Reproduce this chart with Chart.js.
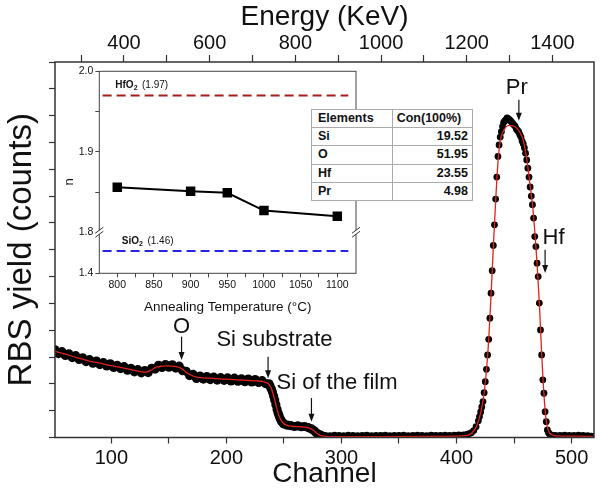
<!DOCTYPE html>
<html>
<head>
<meta charset="utf-8">
<script src="https://cdn.jsdelivr.net/npm/chart.js@4.4.0/dist/chart.umd.min.js"></script>
<style>
  body { margin: 0; background: #fff; }
  #wrap { position: relative; width: 600px; height: 495px; overflow: hidden; }
  #main { position: absolute; left: 0; top: 0; }
  #inset { position: absolute; left: 56px; top: 63px; }
  #comp { position: absolute; left: 311px; top: 109px; width: 161px; border-collapse: collapse; table-layout: fixed;
          background: #fff; font: bold 12.5px 'Liberation Sans', Arial, sans-serif; color: #111; }
  #comp td { border: 1px solid #aaa; height: 17.2px; padding: 0 4px 0 6px; line-height: 17px; white-space: nowrap; }
  #comp td.num { text-align: right; }
  #comp tr:first-child td:last-child { padding-left: 4px; }
</style>
</head>
<body>
<div id="wrap">
  <canvas id="main" width="600" height="495"></canvas>
  <canvas id="inset" width="310" height="260"></canvas>
  <table id="comp"><colgroup><col style="width:80.7px"><col style="width:80.3px"></colgroup><tbody></tbody></table>
</div>
<script>
// RBS spectrum, measured points (channel / counts, arbitrary units)
const measChannel = [
  51, 54, 57, 60, 63, 66, 69, 72, 75, 78, 81, 84, 87, 90, 93, 96, 99, 102, 105, 108,
  111, 114, 117, 120, 123, 126, 129, 132, 135, 138, 141, 144, 147, 150, 153, 156, 159, 162, 165, 168,
  171, 174, 177, 180, 183, 186, 189, 192, 195, 198, 201, 204, 207, 210, 213, 216, 219, 222, 225, 228,
  231, 234, 237, 238, 239, 240, 241, 242, 243, 244, 245, 246, 247, 248, 249, 250, 253, 256, 259, 262,
  265, 268, 271, 274, 276, 278, 280, 282, 286, 290, 294, 298, 302, 306, 310, 314, 318, 322, 326, 330,
  334, 338, 342, 346, 350, 354, 358, 362, 366, 370, 374, 378, 382, 386, 390, 394, 398, 402, 406, 409,
  411, 413, 415, 417, 419, 420, 421, 422, 423, 424, 425, 426, 427, 428, 429, 430, 431, 432, 433, 434,
  435, 436, 437, 438, 439, 440, 441, 442, 443, 444, 445, 446, 447, 448, 449, 450, 451, 452, 453, 454,
  455, 456, 457, 458, 459, 460, 461, 462, 463, 464, 465, 466, 467, 468, 469, 470, 471, 472, 473, 474,
  475, 476, 477, 478, 479, 480, 481, 483, 486, 490, 494, 498, 502, 506, 510, 514, 517, 519
];
const measCount = [
  327, 313, 320, 306, 312, 298, 305, 291, 297, 283, 290, 277, 285, 272, 279, 267, 275, 261, 269, 257,
  264, 251, 258, 245, 253, 241, 249, 242, 258, 255, 269, 261, 272, 262, 271, 259, 266, 249, 247, 231,
  235, 220, 229, 218, 227, 216, 225, 214, 223, 213, 222, 211, 221, 210, 219, 208, 218, 207, 216, 205,
  212, 201, 200, 190, 181, 170, 155, 140, 122, 104, 90, 78, 68, 60, 55, 50, 46, 44, 41, 43,
  40, 41, 37, 32, 26, 18, 12, 9, 8, 7, 9, 8, 7, 9, 8, 7, 8, 9, 7, 8,
  8, 9, 7, 8, 8, 9, 7, 8, 9, 8, 7, 9, 8, 8, 9, 8, 9, 10, 10, 12,
  14, 18, 26, 40, 62, 78, 95, 114, 134, 167, 208, 254, 308, 366, 445, 538, 622, 716, 793, 889,
  971, 1048, 1091, 1120, 1140, 1160, 1175, 1180, 1185, 1192, 1188, 1185, 1180, 1175, 1170, 1165, 1160, 1150, 1145, 1140,
  1130, 1120, 1105, 1095, 1080, 1060, 1035, 1004, 971, 934, 900, 868, 818, 749, 712, 650, 600, 501, 401, 308,
  215, 165, 96, 59, 28, 18, 12, 9, 8, 8, 9, 8, 8, 9, 8, 7, 5, 3
];

// simulated (fitted) spectrum
const fitChannel = [
  51, 60, 70, 80, 90, 100, 110, 120, 125, 130, 134, 139, 144, 148, 155, 159, 162, 165, 169, 174,
  185, 197, 210, 226, 232, 235, 237, 239, 240.5, 242, 243.5, 245, 247, 249, 252, 258, 265, 270, 273, 275.5,
  278, 281, 285, 290, 330, 380, 405, 410, 413, 416, 418, 420, 422, 424, 426, 428, 430, 432, 434, 436,
  438, 440, 443, 446, 449, 452, 455, 458, 461, 464, 466, 468, 470, 472, 474, 476, 478, 480, 483, 487,
  500, 515, 519
];
const fitCount = [
  321, 311, 298, 286, 277, 268, 260, 250, 246, 244, 250, 262, 266, 267, 265, 261, 254, 243, 233, 225,
  221, 218, 215, 211, 208, 204, 198, 184, 163, 140, 113, 90, 68, 55, 46, 41, 40, 38, 34, 27,
  18, 9, 5, 3, 3, 4, 6, 9, 16, 30, 48, 75, 112, 165, 250, 365, 530, 710, 880, 1025,
  1105, 1135, 1158, 1164, 1162, 1155, 1138, 1108, 1040, 940, 870, 770, 650, 500, 315, 160, 62, 24, 10, 6,
  5, 4, 2
];

// axis ticks
const channelTicks = [100, 150, 200, 250, 300, 350, 400, 450, 500];
const channelLabels = [100, 200, 300, 400, 500];
const energyTicks = [300, 400, 500, 600, 700, 800, 900, 1000, 1100, 1200, 1300, 1400];
const energyLabels = [400, 600, 800, 1000, 1200, 1400];
const countTicks = [0, 100, 200, 300, 400, 500, 600, 700, 800, 900, 1000, 1100, 1200, 1300, 1400];

// inset: refractive index vs annealing temperature
const annealTemp = [800, 900, 950, 1000, 1100];
const refractiveN = [1.856, 1.851, 1.849, 1.827, 1.820];
const refSpan = [780, 1115];
const hfo2N = 1.97;
const sio2N = 1.46;
const tempTicks = [800, 825, 850, 875, 900, 925, 950, 975, 1000, 1025, 1050, 1075, 1100];
const tempLabels = [800, 850, 900, 950, 1000, 1050, 1100];
const nTicksUpper = [1.8, 1.85, 1.9, 1.95, 2.0];
const nLabelsUpper = [1.8, 1.9, 2.0];
const nTicksLower = [1.4];

// composition table
const elements = ['Si', 'O', 'Hf', 'Pr'];
const concentration = ['19.52', '51.95', '23.55', '4.98'];

// text annotations on the spectrum
const labelNotes = [
  { text: 'O', ch: 161, v: 413, align: 'center' },
  { text: 'Si substrate', ch: 191.3, v: 364, align: 'left' },
  { text: 'Si of the film', ch: 243.5, v: 202, align: 'left' },
  { text: 'Pr', ch: 452.4, v: 1304, align: 'center' },
  { text: 'Hf', ch: 474.8, v: 744, align: 'left' }
];
const arrowNotes = [
  { ch: 161, from: 376, to: 289 },
  { ch: 236.2, from: 301, to: 221 },
  { ch: 273.9, from: 147, to: 59 },
  { ch: 454.2, from: 1259, to: 1181 },
  { ch: 477, from: 700, to: 613 }
];

const FONT = "'Liberation Sans', Arial, Helvetica, sans-serif";
Chart.defaults.font.family = FONT;
Chart.defaults.color = '#111';

const toXY = (xs, ys) => xs.map((x, i) => ({ x: x, y: ys[i] }));
const fixedTicks = list => s => { s.ticks = list.map(v => ({ value: v })); };
const near = (list, v) => list.some(t => Math.abs(t - v) < 1e-6);

// table
const tbody = document.querySelector('#comp tbody');
tbody.innerHTML = '<tr><td>Elements</td><td>Con(100%)</td></tr>' +
  elements.map((e, i) => '<tr><td>' + e + '</td><td class="num">' + concentration[i] + '</td></tr>').join('');

const frame = {
  id: 'frame',
  afterDraw(chart, args, opts) {
    const a = chart.chartArea, c = chart.ctx;
    c.save();
    c.strokeStyle = opts.color;
    c.lineWidth = opts.width;
    c.strokeRect(a.left, a.top, a.right - a.left, a.bottom - a.top);
    c.restore();
  }
};

const notes = {
  id: 'notes',
  afterDraw(chart) {
    const c = chart.ctx, sx = chart.scales.x, sy = chart.scales.y;
    c.save();
    c.fillStyle = '#111';
    c.strokeStyle = '#111';
    c.font = '22px ' + FONT;
    c.textBaseline = 'middle';
    labelNotes.forEach(n => {
      c.textAlign = n.align;
      c.fillText(n.text, sx.getPixelForValue(n.ch), sy.getPixelForValue(n.v));
    });
    arrowNotes.forEach(a => {
      const x = sx.getPixelForValue(a.ch);
      const y0 = sy.getPixelForValue(a.from), y1 = sy.getPixelForValue(a.to);
      c.lineWidth = 1.2;
      c.beginPath(); c.moveTo(x, y0); c.lineTo(x, y1 - 6); c.stroke();
      c.beginPath(); c.moveTo(x - 3, y1 - 8); c.lineTo(x + 3, y1 - 8); c.lineTo(x, y1); c.closePath(); c.fill();
    });
    c.restore();
  }
};

const tickGrid = len => ({ drawOnChartArea: false, tickLength: len, tickColor: '#333', tickWidth: 1.2 });

new Chart(document.getElementById('main'), {
  type: 'scatter',
  data: {
    datasets: [
      {
        label: 'fit', type: 'line', data: toXY(fitChannel, fitCount),
        borderColor: '#e3221b', borderWidth: 1.3, pointRadius: 0,
        cubicInterpolationMode: 'monotone', order: 0
      },
      {
        label: 'measured', data: toXY(measChannel, measCount),
        backgroundColor: '#000', borderColor: '#000', borderWidth: 0, order: 1,
        // the dense low-energy part of the spectrum reads as a thicker band
        pointRadius: ctx => (ctx.raw && ctx.raw.x < 284 ? 4.6 : 3.4)
      }
    ]
  },
  options: {
    responsive: false,
    animation: false,
    devicePixelRatio: 1,
    layout: { padding: { right: 6 } },
    plugins: {
      legend: { display: false },
      tooltip: { enabled: false },
      frame: { color: '#333', width: 1.5 }
    },
    scales: {
      x: {
        type: 'linear', position: 'bottom', min: 51, max: 519.5,
        afterBuildTicks: fixedTicks(channelTicks),
        afterFit: s => { s.height = 57.5; },
        border: { display: false },
        grid: tickGrid(6),
        ticks: { font: { size: 20 }, padding: 3, maxRotation: 0, autoSkip: false,
                 callback: v => (near(channelLabels, v) ? v : '') },
        title: { display: true, text: 'Channel', font: { size: 28 }, padding: { top: 0, bottom: 4 } }
      },
      xTop: {
        type: 'linear', position: 'top', min: 239, max: 1497,
        afterBuildTicks: fixedTicks(energyTicks),
        afterFit: s => { s.height = 62; },
        border: { display: false },
        grid: tickGrid(7),
        ticks: { font: { size: 20 }, padding: 0, maxRotation: 0, autoSkip: false,
                 callback: v => (near(energyLabels, v) ? v : '') },
        title: { display: true, text: 'Energy (KeV)', font: { size: 28 }, padding: { top: 0, bottom: 0 } }
      },
      y: {
        type: 'linear', min: 0, max: 1400,
        afterBuildTicks: fixedTicks(countTicks),
        afterFit: s => { s.width = 55; },
        border: { display: false },
        grid: tickGrid(6),
        ticks: { autoSkip: false, callback: () => '' },
        title: { display: true, text: 'RBS yield (counts)', font: { size: 33 }, padding: { top: 2, bottom: 0 } }
      }
    }
  },
  plugins: [frame, notes]
});

// inset decorations: axis break, y title, reference labels
const insetText = {
  id: 'insetText',
  afterDraw(chart) {
    const c = chart.ctx, a = chart.chartArea, yb = chart.scales.y.bottom;
    c.save();
    [a.left, a.right].forEach(x => {
      c.fillStyle = '#fff';
      c.fillRect(x - 4, yb - 2, 8, 4);
      c.strokeStyle = '#333';
      c.lineWidth = 1;
      [-2, 2].forEach(d => {
        c.beginPath(); c.moveTo(x - 4, yb + d + 3); c.lineTo(x + 4, yb + d - 3); c.stroke();
      });
    });
    c.fillStyle = '#111';
    c.font = '13px ' + FONT;
    c.textAlign = 'center';
    c.textBaseline = 'middle';
    c.translate(13.3, 119);
    c.rotate(-Math.PI / 2);
    c.fillText('n', 0, 0);
    c.restore();

    const chem = (x, y, base, sub, rest) => {
      c.save();
      c.fillStyle = '#111';
      c.textBaseline = 'middle';
      c.textAlign = 'left';
      c.font = 'bold 10px ' + FONT;
      c.fillText(base, x, y);
      let w = c.measureText(base).width;
      c.font = 'bold 7px ' + FONT;
      c.fillText(sub, x + w, y + 3);
      w += c.measureText(sub).width;
      c.font = '10px ' + FONT;
      c.fillText(rest, x + w + 4.5, y);
      c.restore();
    };
    chem(a.left + 16, chart.scales.y.getPixelForValue(hfo2N) - 10, 'HfO', '2', '(' + hfo2N.toFixed(2) + ')');
    chem(a.left + 22.5, chart.scales.yLow.getPixelForValue(sio2N) - 10, 'SiO', '2', '(' + sio2N.toFixed(2) + ')');
  }
};

const insetGrid = { drawOnChartArea: false, tickLength: 4, tickColor: '#444', tickWidth: 1 };

new Chart(document.getElementById('inset'), {
  type: 'line',
  data: {
    datasets: [
      {
        label: 'n', data: toXY(annealTemp, refractiveN), yAxisID: 'y',
        borderColor: '#000', backgroundColor: '#000', borderWidth: 2,
        pointStyle: 'rect', pointRadius: 6.7, pointBorderWidth: 0
      },
      {
        label: 'HfO2', data: toXY(refSpan, [hfo2N, hfo2N]), yAxisID: 'y',
        borderColor: '#a51d1d', borderWidth: 2, borderDash: [9, 5], pointRadius: 0
      },
      {
        label: 'SiO2', data: toXY(refSpan, [sio2N, sio2N]), yAxisID: 'yLow',
        borderColor: '#2525e0', borderWidth: 2, borderDash: [9, 5], pointRadius: 0
      }
    ]
  },
  options: {
    responsive: false,
    animation: false,
    devicePixelRatio: 1,
    layout: { padding: { top: 7, right: 10 } },
    plugins: {
      legend: { display: false },
      tooltip: { enabled: false },
      frame: { color: '#444', width: 1 }
    },
    scales: {
      x: {
        type: 'linear', min: 775.5, max: 1125.5,
        afterBuildTicks: fixedTicks(tempTicks),
        afterFit: s => { s.height = 49.7; },
        border: { display: false },
        grid: insetGrid,
        ticks: { font: { size: 10.5 }, padding: 2, maxRotation: 0, autoSkip: false,
                 callback: v => (near(tempLabels, v) ? v : '') },
        title: { display: true, text: 'Annealing Temperature (\u00B0C)', font: { size: 13.5 }, padding: { top: 0, bottom: 8 } }
      },
      yLow: {
        type: 'linear', position: 'left', stack: 'n', stackWeight: 41.3, min: 1.4, max: 1.51,
        afterBuildTicks: fixedTicks(nTicksLower),
        afterFit: s => { s.width = 43.3; },
        border: { display: false },
        grid: insetGrid,
        ticks: { font: { size: 10.5 }, padding: 2, callback: v => v.toFixed(1) }
      },
      y: {
        type: 'linear', position: 'left', stack: 'n', stackWeight: 162, min: 1.8, max: 2.0,
        afterBuildTicks: fixedTicks(nTicksUpper),
        afterFit: s => { s.width = 43.3; },
        border: { display: false },
        grid: insetGrid,
        ticks: { font: { size: 10.5 }, padding: 2, autoSkip: false,
                 callback: v => (near(nLabelsUpper, v) ? v.toFixed(1) : '') }
      }
    }
  },
  plugins: [frame, insetText]
});
</script>
</body>
</html>
